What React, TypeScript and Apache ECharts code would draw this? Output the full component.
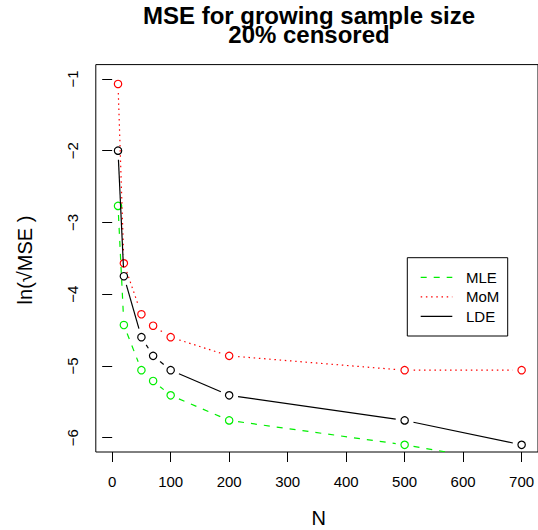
import React, { useEffect, useRef } from "react";
import * as echarts from "echarts";

const N = [10, 20, 50, 70, 100, 200, 500, 700];
const MLE = [-2.77, -4.43, -5.06, -5.21, -5.41, -5.76, -6.1, -6.38];
const MoM = [-1.07, -3.57, -4.28, -4.44, -4.6, -4.86, -5.06, -5.06];
const LDE = [-2.0, -3.75, -4.6, -4.86, -5.06, -5.41, -5.76, -6.1];
const X_TICKS = [0, 100, 200, 300, 400, 500, 600, 700];
const Y_TICKS = [-6, -5, -4, -3, -2, -1];

const FONT = "'Liberation Sans', Arial, Helvetica, sans-serif";
const GAP = 9;
const R = 3.7;
const LW = 1.2;

function makeSeries(name: string, vals: number[], color: string, dash: number[] | null) {
  return {
    type: "custom",
    name,
    clip: true,
    data: N.map((n, i) => [n, vals[i]]),
    renderItem: (params: any, api: any) => {
      const i = params.dataIndex;
      const p = api.coord([api.value(0), api.value(1)]);
      const children: any[] = [
        {
          type: "circle",
          shape: { cx: p[0], cy: p[1], r: R },
          style: { fill: "none", stroke: color, lineWidth: LW },
        },
      ];
      if (i < N.length - 1) {
        const q = api.coord([N[i + 1], vals[i + 1]]);
        const dx = q[0] - p[0];
        const dy = q[1] - p[1];
        const L = Math.hypot(dx, dy);
        if (L > 2 * GAP) {
          const ux = dx / L;
          const uy = dy / L;
          const style: any = { stroke: color, lineWidth: LW, fill: "none" };
          if (dash) style.lineDash = dash;
          children.push({
            type: "line",
            shape: {
              x1: p[0] + ux * GAP,
              y1: p[1] + uy * GAP,
              x2: q[0] - ux * GAP,
              y2: q[1] - uy * GAP,
            },
            style,
          });
        }
      }
      return { type: "group", children };
    },
  };
}

const DASHED = [6, 7];
const DOTTED = [1.5, 3.7];

const legendItems = [
  { label: "MLE", color: "#00ee00", dash: DASHED, y: 277.3 },
  { label: "MoM", color: "#ff0000", dash: DOTTED, y: 296.8 },
  { label: "LDE", color: "#000000", dash: null as number[] | null, y: 316.3 },
];

export default function App() {
  const ref = useRef<HTMLDivElement>(null);
  useEffect(() => {
    const chart = echarts.init(ref.current as HTMLDivElement, null, { renderer: "svg" });
    const legendGraphics: any[] = [
      {
        type: "rect",
        shape: { x: 407.3, y: 257.7, width: 100.4, height: 78.3 },
        style: { fill: "none", stroke: "#000", lineWidth: 1 },
      },
    ];
    legendItems.forEach((it) => {
      const st: any = { stroke: it.color, lineWidth: LW };
      if (it.dash) st.lineDash = it.dash;
      legendGraphics.push({
        type: "line",
        shape: { x1: 420.7, y1: it.y, x2: 452.3, y2: it.y },
        style: st,
      });
      legendGraphics.push({
        type: "text",
        x: 466,
        y: it.y,
        style: {
          text: it.label,
          font: `15px ${FONT}`,
          fill: "#000",
          textAlign: "left",
          textVerticalAlign: "middle",
        },
      });
    });

    const option: any = {
      animation: false,
      backgroundColor: "#fff",
      grid: {
        show: true,
        left: 95.8,
        top: 64.6,
        width: 446.5,
        height: 387.4,
        borderColor: "#000",
        borderWidth: 1,
        backgroundColor: "transparent",
        containLabel: false,
      },
      xAxis: {
        type: "value",
        min: -28,
        max: 728,
        axisLine: { show: false },
        splitLine: { show: false },
        axisTick: {
          show: true,
          customValues: X_TICKS,
          length: 10,
          lineStyle: { color: "#000", width: 1 },
        },
        axisLabel: {
          customValues: X_TICKS,
          fontSize: 15,
          fontFamily: FONT,
          color: "#000",
          margin: 22,
        },
      },
      yAxis: {
        type: "value",
        min: -6.2,
        max: -0.8,
        axisLine: { show: false },
        splitLine: { show: false },
        axisTick: {
          show: true,
          customValues: Y_TICKS,
          length: 10,
          lineStyle: { color: "#000", width: 1 },
        },
        axisLabel: {
          customValues: Y_TICKS,
          rotate: 90,
          fontSize: 15,
          fontFamily: FONT,
          color: "#000",
          margin: 16,
          formatter: (v: number) => (v < 0 ? "\u2212" + Math.abs(v) : String(v)),
        },
      },
      series: [
        makeSeries("MLE", MLE, "#00ee00", DASHED),
        makeSeries("MoM", MoM, "#ff0000", DOTTED),
        makeSeries("LDE", LDE, "#000000", null),
      ],
      graphic: [
        {
          type: "text",
          x: 309,
          y: 25.1,
          style: {
            text: "MSE for growing sample size\n20% censored",
            font: `bold 24px ${FONT}`,
            lineHeight: 19.2,
            fill: "#000",
            textAlign: "center",
            textVerticalAlign: "middle",
          },
        },
        {
          type: "text",
          x: 25,
          y: 260,
          rotation: Math.PI / 2,
          style: {
            text: "ln(\u221AMSE )",
            font: `20px ${FONT}`,
            fill: "#000",
            textAlign: "center",
            textVerticalAlign: "middle",
          },
        },
        {
          type: "text",
          x: 318.7,
          y: 517.5,
          style: {
            text: "N",
            font: `20px ${FONT}`,
            fill: "#000",
            textAlign: "center",
            textVerticalAlign: "middle",
          },
        },
        ...legendGraphics,
      ],
    };
    chart.setOption(option);
    return () => chart.dispose();
  }, []);
  return (
    <div
      ref={ref}
      style={{ width: 538, height: 530, position: "absolute", left: 0, top: 0 }}
    />
  );
}
